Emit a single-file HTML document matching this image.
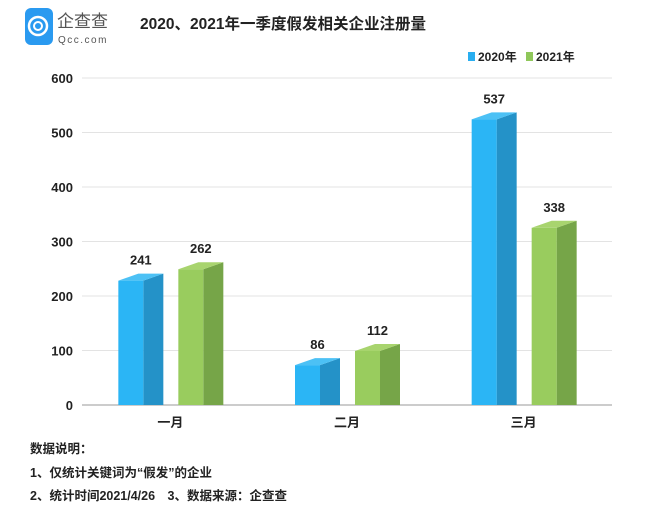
<!DOCTYPE html>
<html><head><meta charset="utf-8"><style>
body{margin:0;background:#fff;width:649px;height:517px;overflow:hidden;font-family:"Liberation Sans","Noto Sans CJK SC",sans-serif;}
svg{display:block}
</style></head><body>
<svg id="chart" width="649" height="517">
<g>
<rect x="25" y="8" width="28" height="37" rx="6" fill="#2a9af0"/>
<circle cx="38" cy="26" r="9" fill="none" stroke="#fff" stroke-width="2.5"/>
<circle cx="38" cy="26" r="4" fill="none" stroke="#fff" stroke-width="2"/>
<text x="57" y="27" font-size="17" fill="#555" font-family="Noto Sans CJK SC, sans-serif">企查查</text>
<text x="58" y="43" font-size="10" fill="#555" letter-spacing="1.5">Qcc.com</text>
</g>
<text x="140" y="29" font-size="15.5" font-weight="bold" fill="#222">2020、2021年一季度假发相关企业注册量</text>
<g>
<rect x="468" y="52" width="7" height="9" fill="#29aef0"/>
<text x="478" y="61" font-size="12" font-weight="bold" fill="#222">2020年</text>
<rect x="526" y="52" width="7" height="9" fill="#8fc75a"/>
<text x="536" y="61" font-size="12" font-weight="bold" fill="#222">2021年</text>
</g>
<g id="grid"></g><g id="bars"></g>
<g font-size="12.5" font-weight="bold" fill="#222">
<text x="30" y="453">数据说明：</text>
<text x="30" y="477">1、仅统计关键词为“假发”的企业</text>
<text x="30" y="500">2、统计时间2021/4/26　3、数据来源：企查查</text>
</g>
</svg>
<script>
const categories=["一月","二月","三月"];
const values2020=[241,86,537];
const values2021=[262,112,338];
const yTicks=[0,100,200,300,400,500,600];
const ns="http://www.w3.org/2000/svg";
const x0=82,x1=612,y0=405,y600=78;
const yS=v=>y0-(v/600)*(y0-y600);
const cw=(x1-x0)/categories.length;
const cx=i=>x0+cw*(i+0.5);
function mk(t,a,p){const e=document.createElementNS(ns,t);for(const k in a)e.setAttribute(k,a[k]);p.appendChild(e);return e;}
const g=document.getElementById('grid'),b=document.getElementById('bars');
yTicks.forEach(t=>{
 const l=mk('line',{x1:x0,x2:x1,y1:yS(t),y2:yS(t),stroke:t===0?'#ccc':'#e3e3e3','stroke-width':t===0?2:1},g);
 
 
 const tx=mk('text',{x:73,y:yS(t)+5,'text-anchor':'end','font-size':13,'font-weight':'bold',fill:'#222'},g);tx.textContent=t;
 
 
});
const dx=20,dy=7,fw=25;
function bar(i,v,off,cf,cs,ct,name){
 const xl=cx(i)+off,yb=y0,yt=yS(v)+dy;
 const grp=mk('g',{},b);
 
 
 mk('polygon',{points:`${xl+fw},${yb} ${xl+fw},${yt} ${xl+fw+dx},${yt-dy} ${xl+fw+dx},${yb}`,fill:cs},grp);
 mk('polygon',{points:`${xl},${yt} ${xl+dx},${yt-dy} ${xl+fw+dx},${yt-dy} ${xl+fw},${yt}`,fill:ct},grp);
 mk('rect',{x:xl,y:yt,width:fw,height:yb-yt,fill:cf},grp);
 const t=mk('text',{x:xl+(fw+dx)/2,y:yt-dy-9,'text-anchor':'middle','font-size':13,'font-weight':'bold',fill:'#222'},b);t.textContent=v;
 
 
}
categories.forEach((c,i)=>{
 bar(i,values2020[i],-52,'#2bb5f5','#2492c8','#4cc1f5','bar-2020-'+i);
 bar(i,values2021[i],8,'#99cc5e','#76a548','#a8d46e','bar-2021-'+i);
 const t=mk('text',{x:cx(i),y:427,'text-anchor':'middle','font-size':13,'font-weight':'bold',fill:'#222'},g);t.textContent=c;
 
 
});
</script>
</body></html>
